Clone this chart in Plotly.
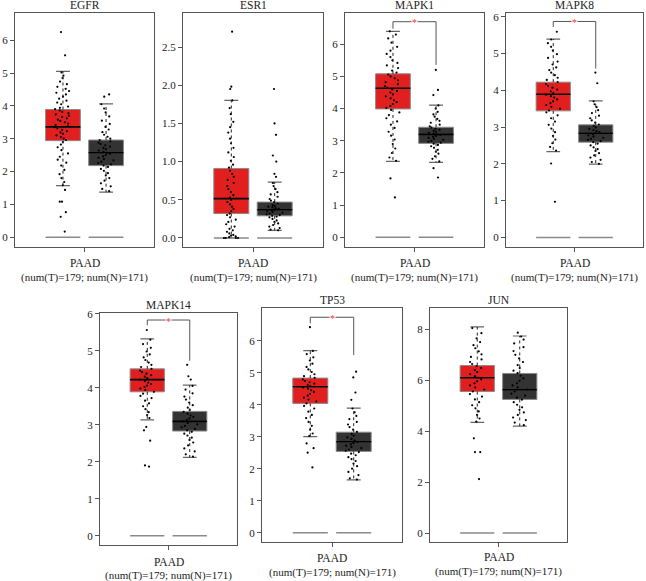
import plotly.graph_objects as go

# ---------------- DATA ----------------
genes = ["EGFR", "ESR1", "MAPK1", "MAPK8", "MAPK14", "TP53", "JUN"]
cancer = "PAAD"
num_T = 179
num_N = 171

# tumour box statistics
t_q1 = [2.94, 0.32, 3.99, 3.44, 3.89, 4.04, 5.56]
t_median = [3.36, 0.515, 4.63, 3.89, 4.22, 4.56, 6.10]
t_q3 = [3.89, 0.91, 5.08, 4.22, 4.51, 4.83, 6.58]
t_lowerfence = [1.57, 0.0, 2.36, 2.33, 3.13, 3.00, 4.35]
t_upperfence = [5.05, 1.80, 6.40, 5.39, 5.32, 5.69, 8.10]

# normal box statistics
n_q1 = [2.18, 0.29, 2.92, 2.59, 2.83, 2.54, 5.25]
n_median = [2.57, 0.37, 3.20, 2.83, 3.09, 2.84, 5.63]
n_q3 = [2.96, 0.47, 3.42, 3.06, 3.36, 3.14, 6.27]
n_lowerfence = [1.37, 0.10, 2.33, 1.99, 2.12, 1.65, 4.20]
n_upperfence = [4.06, 0.73, 4.11, 3.71, 4.07, 3.89, 7.74]

# sample points (approximate)
egfr_t = [6.25, 5.54, 5.02, 4.92, 4.85, 4.74, 4.66, 4.58, 4.52, 4.45, 4.40, 4.35, 4.28, 4.22, 4.16, 4.10,
          4.05, 3.98, 3.94, 3.90, 3.86, 3.82, 3.78, 3.74, 3.70, 3.66, 3.62, 3.58, 3.54, 3.50, 3.46, 3.42,
          3.38, 3.35, 3.31, 3.27, 3.23, 3.19, 3.15, 3.10, 3.05, 3.00, 2.96, 2.90, 2.82, 2.74, 2.65, 2.55,
          2.45, 2.36, 2.27, 2.18, 2.05, 1.92, 1.80, 1.68, 1.58, 1.44, 1.08, 1.08, 0.76, 0.62, 0.17]
egfr_n = [4.35, 4.28, 4.05, 3.92, 3.80, 3.68, 3.55, 3.45, 3.36, 3.28, 3.20, 3.12, 3.06, 3.00, 2.96, 2.92,
          2.88, 2.84, 2.80, 2.76, 2.72, 2.68, 2.64, 2.60, 2.57, 2.54, 2.50, 2.46, 2.42, 2.38, 2.34, 2.30,
          2.26, 2.22, 2.18, 2.14, 2.08, 2.02, 1.95, 1.88, 1.80, 1.72, 1.64, 1.55, 1.47, 1.40]
esr1_t = [2.70, 1.98, 1.95, 1.80, 1.70, 1.62, 1.52, 1.45, 1.38, 1.30, 1.24, 1.18, 1.12, 1.06, 1.01, 0.96,
          0.92, 0.88, 0.84, 0.80, 0.76, 0.72, 0.68, 0.64, 0.60, 0.56, 0.53, 0.50, 0.47, 0.44, 0.41, 0.38,
          0.35, 0.32, 0.30, 0.27, 0.24, 0.21, 0.18, 0.15, 0.12, 0.10, 0.08, 0.06, 0.04, 0.03, 0.02, 0.01,
          0.0, 0.0, 0.0, 0.0]
esr1_n = [1.95, 1.50, 1.35, 1.08, 1.00, 0.84, 0.80, 0.72, 0.68, 0.64, 0.60, 0.57, 0.54, 0.51, 0.49, 0.47,
          0.45, 0.43, 0.42, 0.41, 0.40, 0.39, 0.38, 0.37, 0.36, 0.35, 0.34, 0.33, 0.32, 0.31, 0.30, 0.29,
          0.28, 0.27, 0.25, 0.23, 0.21, 0.19, 0.17, 0.15, 0.13, 0.11, 0.10]
mapk1_t = [6.40, 6.30, 6.18, 6.05, 5.92, 5.80, 5.70, 5.60, 5.50, 5.42, 5.34, 5.26, 5.18, 5.12, 5.06, 5.00,
           4.94, 4.88, 4.82, 4.76, 4.70, 4.65, 4.60, 4.55, 4.50, 4.44, 4.38, 4.32, 4.26, 4.20, 4.14, 4.08,
           4.02, 3.96, 3.88, 3.80, 3.70, 3.60, 3.50, 3.40, 3.28, 3.16, 3.04, 2.90, 2.76, 2.62, 2.48, 2.38,
           1.83, 1.24]
mapk1_n = [5.20, 4.58, 4.42, 4.10, 4.00, 3.90, 3.82, 3.75, 3.68, 3.62, 3.56, 3.50, 3.45, 3.41, 3.37, 3.34,
           3.31, 3.28, 3.25, 3.22, 3.20, 3.18, 3.15, 3.12, 3.09, 3.06, 3.03, 3.00, 2.97, 2.94, 2.91, 2.87,
           2.83, 2.78, 2.72, 2.66, 2.60, 2.52, 2.44, 2.36, 2.15, 1.86]
mapk8_t = [5.59, 5.38, 5.28, 5.18, 5.08, 4.98, 4.88, 4.78, 4.70, 4.62, 4.55, 4.48, 4.41, 4.34, 4.28, 4.22,
           4.17, 4.12, 4.07, 4.02, 3.97, 3.92, 3.88, 3.84, 3.80, 3.75, 3.70, 3.65, 3.60, 3.55, 3.50, 3.45,
           3.40, 3.32, 3.24, 3.15, 3.06, 2.96, 2.86, 2.76, 2.66, 2.56, 2.46, 2.36, 2.01, 0.97]
mapk8_n = [4.48, 4.19, 3.70, 3.62, 3.54, 3.46, 3.38, 3.31, 3.24, 3.18, 3.12, 3.07, 3.03, 2.99, 2.95, 2.92,
           2.89, 2.86, 2.83, 2.80, 2.77, 2.74, 2.71, 2.68, 2.65, 2.62, 2.59, 2.55, 2.50, 2.45, 2.40, 2.35,
           2.29, 2.23, 2.17, 2.11, 2.05, 2.00]
mapk14_t = [5.56, 5.30, 5.18, 5.08, 4.98, 4.90, 4.82, 4.75, 4.68, 4.62, 4.56, 4.51, 4.46, 4.42, 4.38, 4.34,
            4.30, 4.26, 4.22, 4.18, 4.14, 4.10, 4.06, 4.02, 3.98, 3.94, 3.89, 3.84, 3.78, 3.72, 3.65, 3.58,
            3.50, 3.42, 3.34, 3.26, 3.18, 2.94, 2.85, 2.57, 1.90, 1.87]
mapk14_n = [4.62, 4.31, 4.22, 4.05, 3.95, 3.85, 3.76, 3.68, 3.60, 3.53, 3.46, 3.40, 3.35, 3.30, 3.25, 3.21,
            3.17, 3.13, 3.09, 3.05, 3.01, 2.97, 2.93, 2.89, 2.85, 2.81, 2.76, 2.71, 2.65, 2.59, 2.52, 2.44,
            2.36, 2.28, 2.20, 2.14]
tp53_t = [6.42, 5.68, 5.58, 5.48, 5.38, 5.28, 5.18, 5.10, 5.02, 4.95, 4.89, 4.84, 4.79, 4.74, 4.70, 4.66,
          4.62, 4.58, 4.54, 4.50, 4.45, 4.40, 4.34, 4.28, 4.22, 4.16, 4.10, 4.04, 3.96, 3.88, 3.78, 3.68,
          3.58, 3.46, 3.34, 3.22, 3.10, 3.02, 2.79, 2.64, 2.50, 2.04]
tp53_n = [5.03, 4.85, 4.38, 4.15, 3.88, 3.76, 3.65, 3.55, 3.46, 3.38, 3.30, 3.22, 3.15, 3.09, 3.03, 2.98,
          2.93, 2.88, 2.84, 2.80, 2.76, 2.72, 2.68, 2.64, 2.60, 2.56, 2.52, 2.47, 2.42, 2.36, 2.30, 2.24,
          2.16, 2.08, 2.00, 1.90, 1.80, 1.70, 1.66]
jun_t = [8.05, 7.85, 7.65, 7.50, 7.38, 7.26, 7.14, 7.02, 6.92, 6.82, 6.72, 6.64, 6.56, 6.48, 6.40, 6.32,
         6.24, 6.16, 6.10, 6.04, 5.96, 5.88, 5.80, 5.72, 5.64, 5.56, 5.46, 5.36, 5.25, 5.14, 5.02, 4.90,
         4.78, 4.64, 4.50, 4.38, 3.72, 3.18, 3.18, 2.12]
jun_n = [7.87, 7.72, 7.60, 7.45, 7.30, 7.15, 7.00, 6.86, 6.72, 6.60, 6.48, 6.38, 6.28, 6.18, 6.08, 5.98,
         5.88, 5.80, 5.72, 5.64, 5.56, 5.48, 5.40, 5.32, 5.24, 5.14, 5.04, 4.94, 4.84, 4.74, 4.64, 4.54,
         4.44, 4.34, 4.24]

t_points = [egfr_t, esr1_t, mapk1_t, mapk8_t, mapk14_t, tp53_t, jun_t]
n_points = [egfr_n, esr1_n, mapk1_n, mapk8_n, mapk14_n, tp53_n, jun_n]

# significance brackets (None = not significant)
sig_top = [None, None, 6.70, 5.87, 5.83, 6.73, None]
sig_left_end = [None, None, 6.48, 5.72, 5.69, 6.54, None]
sig_right_end = [None, None, 5.36, 4.59, 4.73, 5.55, None]

# y ticks
y_ticks = [[0, 1, 2, 3, 4, 5, 6], [0.0, 0.5, 1.0, 1.5, 2.0, 2.5], [0, 1, 2, 3, 4, 5, 6],
           [0, 1, 2, 3, 4, 5, 6], [0, 1, 2, 3, 4, 5, 6], [0, 1, 2, 3, 4, 5, 6], [0, 2, 4, 6, 8]]

# ---------------- LAYOUT SETTINGS ----------------
W, H = 646, 581
# pixel frames: (left, right, top, bottom)
frames = [(15, 154, 13, 247), (183, 323, 13, 247), (345, 484, 13, 247), (506, 643, 13, 247),
          (100, 237, 313, 545), (262, 402, 308, 542), (430, 567, 308, 542)]
# pixel y-centres of the two lines under each panel
label_y = [(263, 277), (263, 277), (263, 277), (263, 277), (562, 575), (558, 572), (557, 571)]
y_ranges = [(-0.30, 6.83), (-0.118, 2.945), (-0.30, 6.97), (-0.26, 6.10),
            (-0.25, 6.02), (-0.29, 7.02), (-0.35, 8.84)]
POS_T, POS_N, BOXW, CAPW = -0.31, 0.31, 0.5, 0.2
RED = "#e21f1f"
DARK = "#333333"
GREY = "#8a8a8a"
SERIF = "Liberation Serif, Times New Roman, serif"

fig = go.Figure()
annotations = []
layout_axes = {}


def flat_line(pos, val, width, color, lw, xa, ya):
    # a zero-height box draws as a horizontal segment
    return go.Box(x=[pos], q1=[val], median=[val], q3=[val], lowerfence=[val], upperfence=[val],
                  orientation="v", width=width, whiskerwidth=0, fillcolor="rgba(0,0,0,0)",
                  line=dict(color=color, width=lw), boxpoints=False,
                  xaxis=xa, yaxis=ya, showlegend=False, hoverinfo="skip")


for i, g in enumerate(genes):
    k = "" if i == 0 else str(i + 1)
    xa, ya = "x" + k, "y" + k
    groups = [(POS_T, RED, t_q1[i], t_median[i], t_q3[i], t_lowerfence[i], t_upperfence[i], t_points[i]),
              (POS_N, DARK, n_q1[i], n_median[i], n_q3[i], n_lowerfence[i], n_upperfence[i], n_points[i])]
    for pos, fill, q1, md, q3, lo, hi, pts in groups:
        # filled box (no whiskers)
        fig.add_trace(go.Box(x=[pos], q1=[q1], median=[md], q3=[q3], lowerfence=[q1], upperfence=[q3],
                             orientation="v", width=BOXW, whiskerwidth=0, fillcolor=fill,
                             line=dict(color=GREY, width=1), boxpoints=False,
                             xaxis=xa, yaxis=ya, showlegend=False, hoverinfo="skip"))
        # dotted whiskers
        fig.add_trace(go.Scatter(x=[pos, pos, None, pos, pos], y=[q3, hi, None, q1, lo], mode="lines",
                                 line=dict(color="#222", width=1, dash="dot"),
                                 xaxis=xa, yaxis=ya, showlegend=False, hoverinfo="skip"))
        # caps
        fig.add_trace(flat_line(pos, hi, CAPW, "#666", 1.2, xa, ya))
        fig.add_trace(flat_line(pos, lo, CAPW, "#666", 1.2, xa, ya))
        # zero baseline
        fig.add_trace(flat_line(pos, 0, BOXW, GREY, 1.5, xa, ya))
    # jittered points
    for pos, fill, q1, md, q3, lo, hi, pts in groups:
        fig.add_trace(go.Box(y=pts, x0=pos, width=BOXW, boxpoints="all", jitter=0.5, pointpos=0,
                             fillcolor="rgba(0,0,0,0)", line=dict(color="rgba(0,0,0,0)", width=0),
                             marker=dict(color="black", size=2.2),
                             xaxis=xa, yaxis=ya, showlegend=False, hoverinfo="skip"))
    # median lines
    for pos, fill, q1, md, q3, lo, hi, pts in groups:
        fig.add_trace(flat_line(pos, md, BOXW, "black", 1.6, xa, ya))
    # significance bracket
    if sig_top[i] is not None:
        fig.add_trace(go.Scatter(x=[POS_T, POS_T, POS_N, POS_N],
                                 y=[sig_left_end[i], sig_top[i], sig_top[i], sig_right_end[i]],
                                 mode="lines", line=dict(color="#555555", width=1),
                                 xaxis=xa, yaxis=ya, showlegend=False, hoverinfo="skip"))
        annotations.append(dict(x=0, y=sig_top[i], xref=xa, yref=ya, text="*", showarrow=False,
                                xanchor="center", yanchor="middle",
                                font=dict(color="#ff3030", size=10, family=SERIF), yshift=-1,
                                bgcolor="white", borderpad=0))

    l, r, t, b = frames[i]
    xd = [l / W, r / W]
    yd = [1 - b / H, 1 - t / H]
    tickfmt = ".1f" if i == 1 else "d"
    layout_axes["xaxis" + k] = dict(domain=xd, anchor=ya, range=[-1, 1], tickvals=[0], ticktext=[""],
                                    ticks="outside", ticklen=4, tickcolor="#555", showgrid=False,
                                    zeroline=False, showline=True, mirror=True, linecolor="#555",
                                    linewidth=1.2, automargin=False)
    layout_axes["yaxis" + k] = dict(domain=yd, anchor=xa, range=list(y_ranges[i]), tickvals=y_ticks[i],
                                    tickformat=tickfmt, ticks="outside", ticklen=4, tickcolor="#555",
                                    showgrid=False, zeroline=False, showline=True, mirror=True,
                                    linecolor="#555", linewidth=1.2, automargin=False,
                                    tickfont=dict(family=SERIF, size=11, color="#222"))
    cx = (l + r) / 2 / W
    annotations.append(dict(x=cx, y=1 - t / H, xref="paper", yref="paper", text=g,
                            showarrow=False, xanchor="center", yanchor="bottom", yshift=0,
                            font=dict(family=SERIF, size=11.5, color="#222")))
    ly1, ly2 = label_y[i]
    annotations.append(dict(x=cx, y=1 - ly1 / H, xref="paper", yref="paper", text=cancer,
                            showarrow=False, xanchor="center", yanchor="middle",
                            font=dict(family=SERIF, size=11.5, color="#222")))
    annotations.append(dict(x=cx, y=1 - ly2 / H, xref="paper", yref="paper",
                            text=f"(num(T)={num_T}; num(N)={num_N})",
                            showarrow=False, xanchor="center", yanchor="middle",
                            font=dict(family=SERIF, size=11, color="#222")))

fig.update_layout(width=W, height=H, margin=dict(l=0, r=0, t=0, b=0, autoexpand=False),
                  paper_bgcolor="white", plot_bgcolor="white", boxmode="overlay", showlegend=False,
                  annotations=annotations, **layout_axes)

fig.write_html("out.html", config={"displayModeBar": False},
               post_script="document.body.style.margin='0';document.body.style.padding='0';")
